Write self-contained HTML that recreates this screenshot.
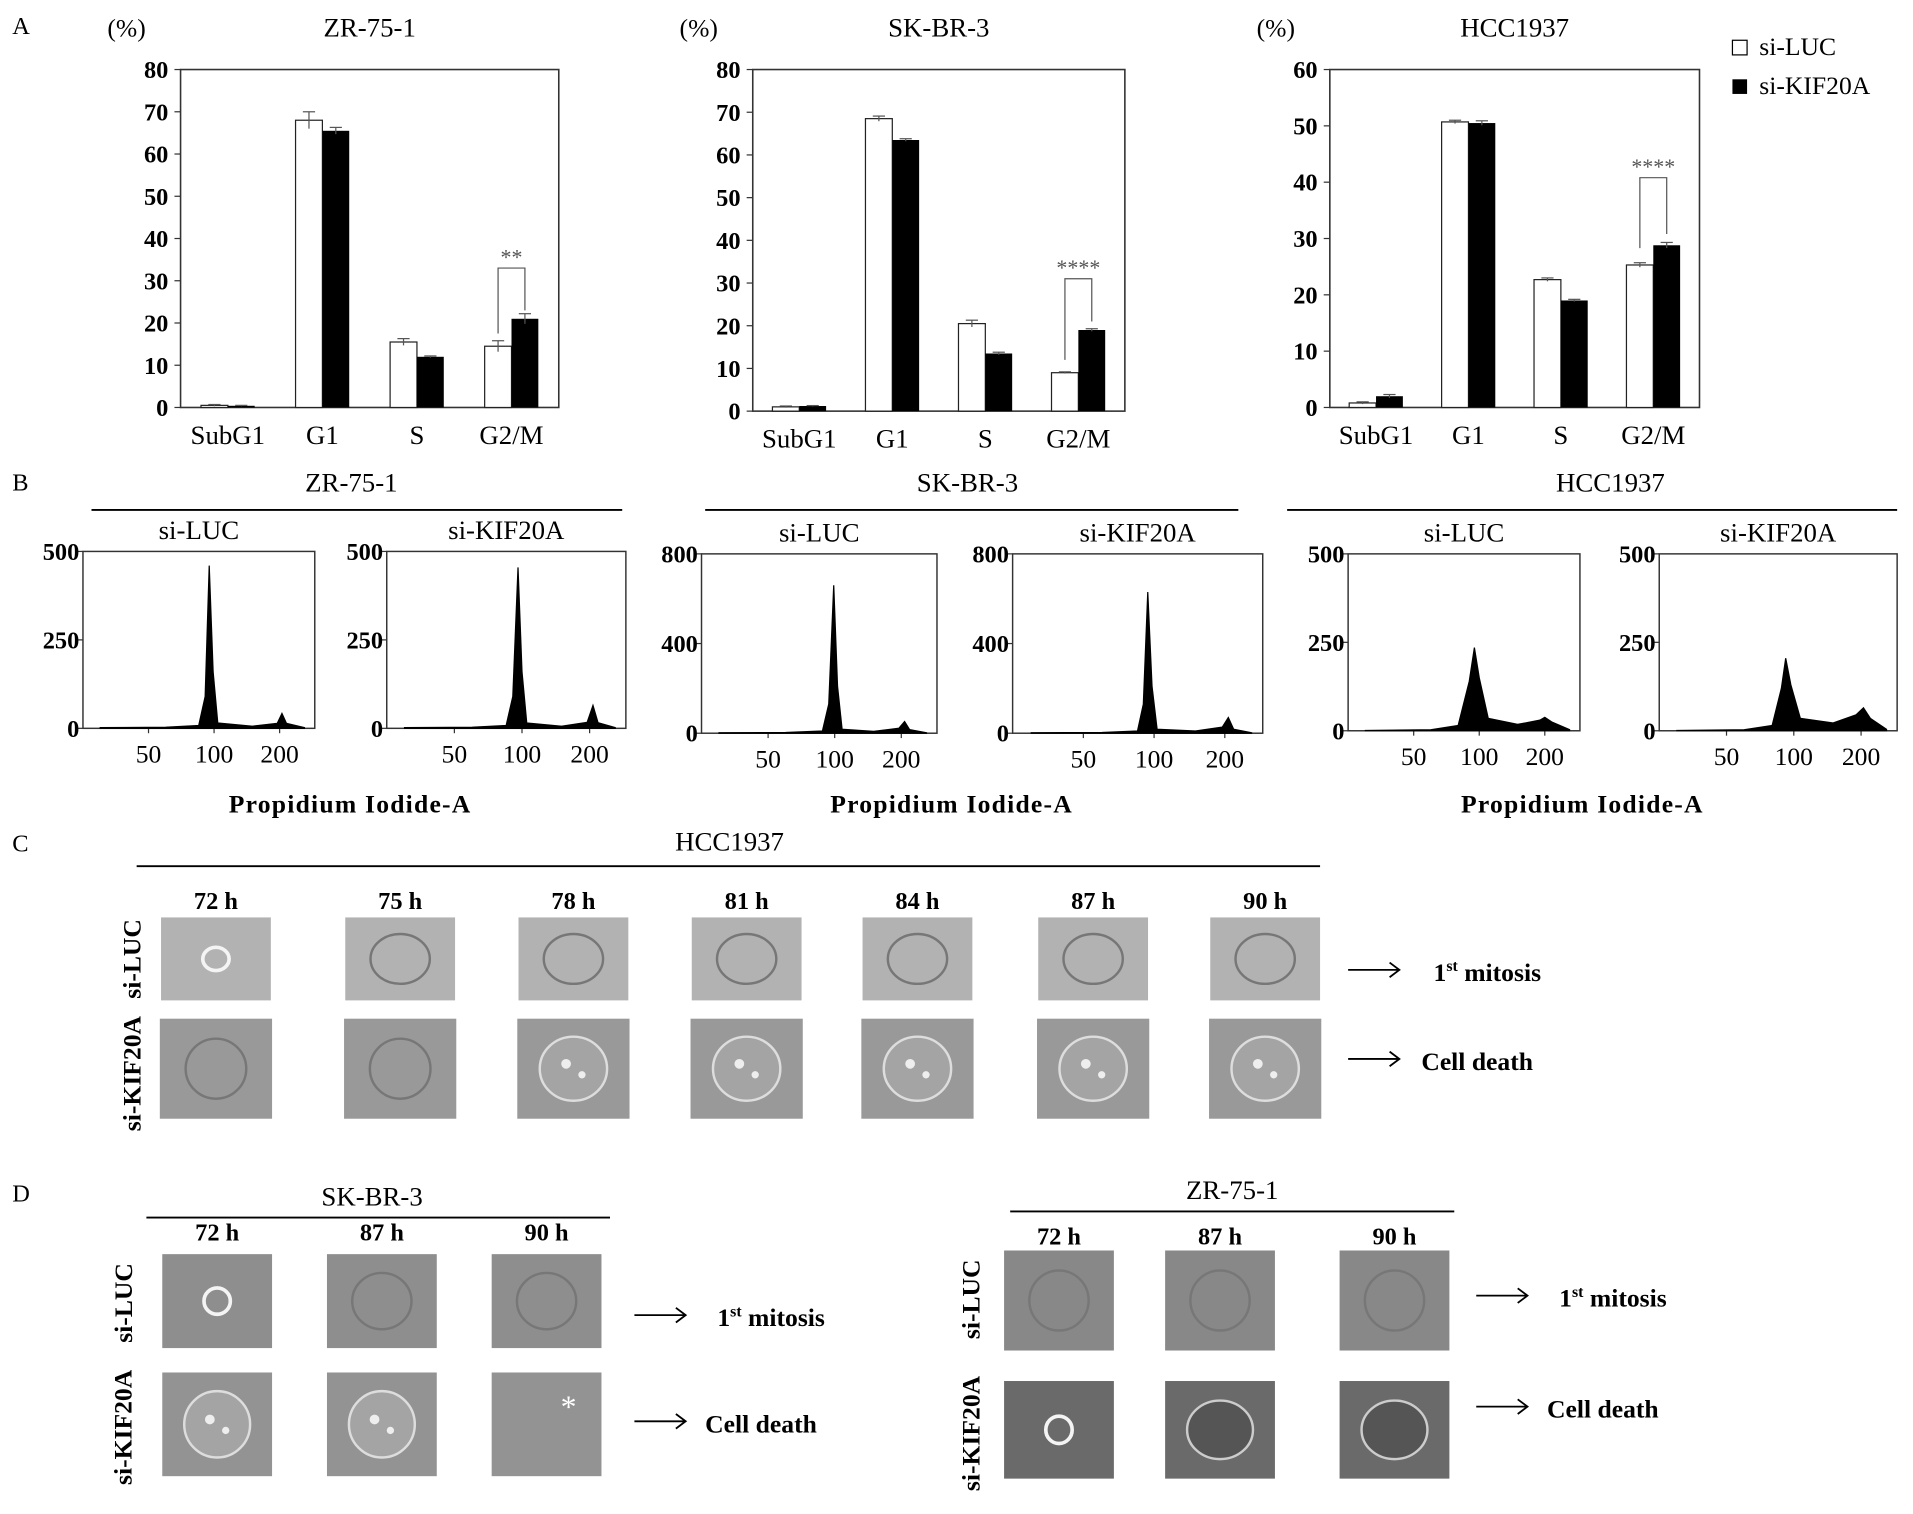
<!DOCTYPE html>
<html><head><meta charset="utf-8"><style>
html,body{margin:0;padding:0;background:#fff;}
svg{display:block;font-family:"Liberation Serif",serif;}
</style></head><body>
<svg id="fig" width="1913" height="1514" viewBox="0 0 1568 1241" preserveAspectRatio="none">
<g id="A"></g><g id="B"></g><g id="C"></g><g id="D"></g>
<text x="10" y="28" font-size="20">A</text>
<text x="10" y="402" font-size="20">B</text>
<text x="10" y="698" font-size="20">C</text>
<text x="10" y="985" font-size="20">D</text>
</svg>
<script>
const NS="http://www.w3.org/2000/svg";
const categories=["SubG1","G1","S","G2/M"];
const zrLuc=[0.5,68,15.5,14.5], zrKif=[0.4,65.5,12,21];
const zrLucErr=[0.2,2,0.8,1.3], zrKifErr=[0.1,0.8,0.2,1.2];
const skLuc=[1,68.5,20.5,9], skKif=[1.2,63.5,13.5,19];
const skLucErr=[0.2,0.6,0.8,0.2], skKifErr=[0.1,0.3,0.3,0.3];
const hcLuc=[0.8,50.7,22.7,25.3], hcKif=[2,50.5,19,28.8];
const hcLucErr=[0.2,0.3,0.3,0.4], hcKifErr=[0.3,0.4,0.2,0.5];
const ticks80=[0,10,20,30,40,50,60,70,80];
const ticks60=[0,10,20,30,40,50,60];
const sigLabels=["**","****","****"];
const hist1=[[30,2],[60,3],[85,8],[91,90],[95,460],[99,160],[104,15],[150,6],[195,14],[205,42],[215,14],[260,2]];
const hist2=[[30,2],[60,3],[85,8],[91,90],[96,455],[100,160],[105,15],[150,6],[195,17],[207,65],[218,16],[260,2]];
const hist3=[[30,2],[60,3],[88,10],[94,130],[99,660],[103,210],[108,18],[150,8],[195,22],[207,52],[218,16],[260,2]];
const hist4=[[30,2],[60,3],[85,10],[90,130],[94,630],[98,210],[103,18],[150,10],[195,27],[207,70],[218,18],[260,2]];
const hist5=[[30,1],[60,3],[80,15],[90,140],[95,235],[100,150],[110,35],[150,18],[190,30],[200,38],[215,25],[260,3]];
const hist6=[[30,1],[60,3],[80,15],[88,120],[92,205],[97,130],[107,35],[150,22],[190,45],[205,65],[220,35],[260,4]];

function el(tag,attrs,parent,txt){const e=document.createElementNS(NS,tag);for(const k in attrs)e.setAttribute(k,attrs[k]);if(txt!==undefined)e.textContent=txt;parent.appendChild(e);return e;}

function barChart(g,x0,x1,y0,y1,max,ticks,luc,kif,lucE,kifE,title,sig,name){
  const ys=v=>y0-(v/max)*(y0-y1);
  const box=el("rect",{x:x0,y:y1,width:x1-x0,height:y0-y1,fill:"none",stroke:"#333","stroke-width":1.3},g);
  
  
  const t=el("text",{x:(x0+x1)/2,y:30,"font-size":22,"text-anchor":"middle"},g,title);
  
  
  const u=el("text",{x:x0-60,y:30,"font-size":21},g,"(%)");
  
  
  ticks.forEach(v=>{
    el("line",{x1:x0-5,x2:x0,y1:ys(v),y2:ys(v),stroke:"#333"},g);
    const tl=el("text",{x:x0-10,y:ys(v)+7,"font-size":20,"font-weight":"bold","text-anchor":"end"},g,v);
    
    
  });
  const w=x1-x0, gw=w/4, bw=22;
  categories.forEach((c,i)=>{
    const cx=x0+gw*(i+0.5);
    const b1=el("rect",{x:cx-bw,y:ys(luc[i]),width:bw,height:ys(0)-ys(luc[i]),fill:"#fff",stroke:"#222","stroke-width":1},g);
    
    
    const b2=el("rect",{x:cx,y:ys(kif[i]),width:bw,height:ys(0)-ys(kif[i]),fill:"#000"},g);
    
    
    [[cx-bw/2,luc[i],lucE[i]],[cx+bw/2,kif[i],kifE[i]]].forEach(([ex,v,e])=>{
      el("line",{x1:ex,x2:ex,y1:ys(v+e),y2:ys(v-e),stroke:"#555"},g);
      el("line",{x1:ex-5,x2:ex+5,y1:ys(v+e),y2:ys(v+e),stroke:"#555"},g);
    });
    const cl=el("text",{x:cx,y:y0+30,"font-size":22,"text-anchor":"middle"},g,c);
    
    
    if(i===3){
      const top=ys(Math.max(luc[i],kif[i])+12);
      el("path",{d:`M${cx-bw/2} ${ys(luc[i]+3)}V${top}H${cx+bw/2}V${ys(kif[i]+2)}`,fill:"none",stroke:"#555"},g);
      const s=el("text",{x:cx,y:top-3,"font-size":18,"text-anchor":"middle",fill:"#555"},g,sig);
      
      
    }
  });
}
const A=document.getElementById("A");
barChart(A,148,458,334,57,80,ticks80,zrLuc,zrKif,zrLucErr,zrKifErr,"ZR-75-1",sigLabels[0],"zr751");
barChart(A,617,922,337,57,80,ticks80,skLuc,skKif,skLucErr,skKifErr,"SK-BR-3",sigLabels[1],"skbr3");
barChart(A,1090,1393,334,57,60,ticks60,hcLuc,hcKif,hcLucErr,hcKifErr,"HCC1937",sigLabels[2],"hcc1937");
const lg1=el("rect",{x:1420,y:33,width:12,height:12,fill:"#fff",stroke:"#000"},A);


const lt1=el("text",{x:1442,y:45,"font-size":21},A,"si-LUC");


const lg2=el("rect",{x:1420,y:65,width:12,height:12,fill:"#000"},A);


const lt2=el("text",{x:1442,y:77,"font-size":21},A,"si-KIF20A");



const B=document.getElementById("B");
const xTicksB=[50,100,200];
function hist(x0,x1,y0,y1,max,yt,data,label,name){
  const xs=v=>x0+(Math.log(v)-Math.log(25))/(Math.log(290)-Math.log(25))*(x1-x0);
  const ys=v=>y0-(v/max)*(y0-y1);
  const f=el("rect",{x:x0,y:y1,width:x1-x0,height:y0-y1,fill:"none",stroke:"#333","stroke-width":1.2},B);
  
  
  yt.forEach(v=>{el("line",{x1:x0-5,x2:x0,y1:ys(v),y2:ys(v),stroke:"#333"},B);
    const t=el("text",{x:x0-3,y:ys(v)+7,"font-size":20,"font-weight":"bold","text-anchor":"end"},B,v);
    
    });
  xTicksB.forEach(v=>{el("line",{x1:xs(v),x2:xs(v),y1:y0,y2:y0+4,stroke:"#333"},B);
    const t=el("text",{x:xs(v),y:y0+28,"font-size":21,"text-anchor":"middle"},B,v);
    
    });
  let d=`M${xs(data[0][0])} ${y0}`;
  data.forEach(p=>d+=`L${xs(p[0])} ${ys(p[1])}`);
  d+=`L${xs(data[data.length-1][0])} ${y0}Z`;
  const p=el("path",{d:d,fill:"#000",stroke:"#000","stroke-width":1},B);
  
  
  const l=el("text",{x:(x0+x1)/2,y:y1-10,"font-size":22,"text-anchor":"middle"},B,label);
  
  
}
hist(68,258,597,452,500,[0,250,500],hist1,"si-LUC","zr-si-luc-hist");
hist(317,513,597,452,500,[0,250,500],hist2,"si-KIF20A","zr-si-kif-hist");
hist(575,768,601,454,800,[0,400,800],hist3,"si-LUC","sk-si-luc-hist");
hist(830,1035,601,454,800,[0,400,800],hist4,"si-KIF20A","sk-si-kif-hist");
hist(1105,1295,599,454,500,[0,250,500],hist5,"si-LUC","hcc-si-luc-hist");
hist(1360,1555,599,454,500,[0,250,500],hist6,"si-KIF20A","hcc-si-kif-hist");
[["ZR-75-1",288,75,510,287],["SK-BR-3",793,578,1015,780],["HCC1937",1320,1055,1555,1297]].forEach(([t,tx,a,b,px])=>{
  const h=el("text",{x:tx,y:403,"font-size":22,"text-anchor":"middle"},B,t);
  
  
  el("line",{x1:a,x2:b,y1:418,y2:418,stroke:"#000","stroke-width":1.5},B);
  const x=el("text",{x:px,y:666,"font-size":21,"text-anchor":"middle","font-weight":"bold","letter-spacing":"1"},B,"Propidium Iodide-A");
  
  
});

function cell(g,x,y,w,h,bg,type,name){
  const r=el("rect",{x:x,y:y,width:w,height:h,fill:bg},g);
  
  
  const cx=x+w/2, cy=y+h/2;
  if(type==="bright"){el("ellipse",{cx:cx,cy:cy,rx:w*0.12,ry:h*0.14,fill:"none",stroke:"#f4f4f4","stroke-width":3},g);}
  else if(type==="round"){el("ellipse",{cx:cx,cy:cy,rx:w*0.27,ry:h*0.3,fill:"none",stroke:"#777","stroke-width":2},g);}
  else if(type==="death"){el("ellipse",{cx:cx,cy:cy,rx:w*0.3,ry:h*0.32,fill:"#a4a4a4",stroke:"#ddd","stroke-width":2},g);
    el("circle",{cx:cx-6,cy:cy-4,r:4,fill:"#eee"},g);el("circle",{cx:cx+7,cy:cy+5,r:3,fill:"#eee"},g);}
  else if(type==="dark"){el("ellipse",{cx:cx,cy:cy,rx:w*0.3,ry:h*0.3,fill:"#555",stroke:"#ccc","stroke-width":2},g);}
}
const C=document.getElementById("C");
const timesC=["72 h","75 h","78 h","81 h","84 h","87 h","90 h"];
const xC=[177,328,470,612,752,896,1037];
const ct=el("text",{x:598,y:697,"font-size":22,"text-anchor":"middle"},C,"HCC1937");


el("line",{x1:112,x2:1082,y1:710,y2:710,stroke:"#000","stroke-width":1.5},C);
timesC.forEach((t,i)=>{
  const tt=el("text",{x:xC[i],y:745,"font-size":20,"font-weight":"bold","text-anchor":"middle"},C,t);
  
  
  cell(C,xC[i]-45,752,90,68,"#b2b2b2",i===0?"bright":"round","hcc-si-luc-image");
  cell(C,xC[i]-46,835,92,82,"#999999",i<2?"round":"death","hcc-si-kif-image");
});
function rowLabels(g,x,y1,y2){
  [["si-LUC",y1],["si-KIF20A",y2]].forEach(([t,y])=>{
    const e=el("text",{x:x,y:y,"font-size":21,"font-weight":"bold","text-anchor":"middle",transform:`rotate(-90 ${x} ${y})`},g,t);
    
    
  });
}
function arrows(g,x,y1,y2,tx1,tx2){
  [[y1,tx1,"mitosis"],[y2,tx2,"death"]].forEach(([y,tx,k])=>{
    el("path",{d:`M${x} ${y}H${x+42}M${x+34} ${y-6}L${x+42} ${y}L${x+34} ${y+6}`,fill:"none",stroke:"#000","stroke-width":1.5},g);
    const e=el("text",{x:tx,y:y+9,"font-size":21,"font-weight":"bold"},g);
    
    
    if(k==="mitosis"){e.textContent="1";el("tspan",{"font-size":13,dy:-8},e,"st");el("tspan",{dy:8},e," mitosis");}
    else e.textContent="Cell death";
  });
}
rowLabels(C,115,786,880);
arrows(C,1105,795,868,1175,1165);

const D=document.getElementById("D");
const timesD=["72 h","87 h","90 h"];
const xD1=[178,313,448], xD2=[868,1000,1143];
[["SK-BR-3",305,120,500,988,xD1,1017,1028,1105,1125,1210,"#8e8e8e","#939393","sk"],
 ["ZR-75-1",1010,828,1192,983,xD2,1020,1025,1107,1132,1212,"#888888","#6a6a6a","zr"]].forEach(([t,tx,a,b,ty,xs,tly,r1a,r1b,r2a,r2b,bg1,bg2,nm])=>{
  const e=el("text",{x:tx,y:ty,"font-size":22,"text-anchor":"middle"},D,t);
  
  
  el("line",{x1:a,x2:b,y1:ty+10,y2:ty+10,stroke:"#000","stroke-width":1.5},D);
  timesD.forEach((tm,i)=>{
    const tt=el("text",{x:xs[i],y:tly,"font-size":20,"font-weight":"bold","text-anchor":"middle"},D,tm);
    
    
    cell(D,xs[i]-45,r1a,90,r1b-r1a,bg1,nm==="sk"&&i===0?"bright":"round",nm+"-si-luc-image");
    cell(D,xs[i]-45,r2a,90,r2b-r2a,bg2,nm==="zr"?(i===0?"bright":"dark"):(i===2?"none":"death"),nm+"-si-kif-image");
  });
});
const star=el("text",{x:466,y:1162,"font-size":26,fill:"#fff","text-anchor":"middle"},D,"*");


rowLabels(D,108,1068,1170);
rowLabels(D,803,1065,1175);
arrows(D,520,1078,1165,588,578);
arrows(D,1210,1062,1153,1278,1268);
</script>
</body></html>
